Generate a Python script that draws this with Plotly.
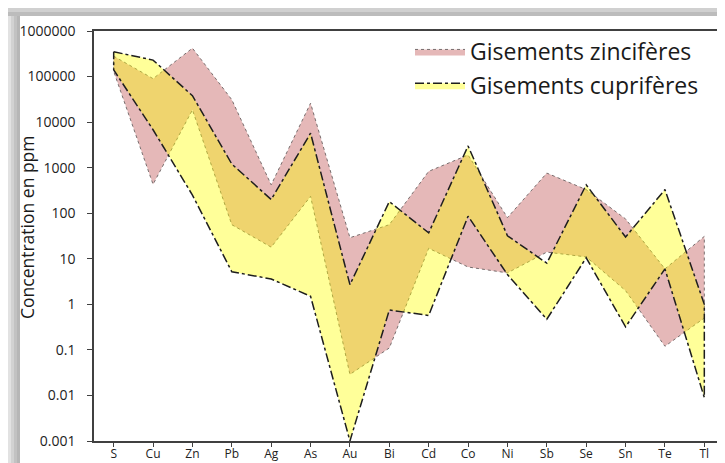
import plotly.graph_objects as go

elements = ["S", "Cu", "Zn", "Pb", "Ag", "As", "Au", "Bi", "Cd", "Co",
            "Ni", "Sb", "Se", "Sn", "Te", "Tl"]

zinc_max = [280000, 90000, 420000, 31000, 420, 26000, 29, 56, 830, 1900,
            80, 760, 330, 75, 6, 31]
zinc_min = [130000, 430, 18600, 56, 18, 235, 0.029, 0.11, 17, 6.6,
            4.9, 14, 11, 2, 0.12, 0.5]

cupr_max = [350000, 230000, 38000, 1200, 200, 5700, 2.7, 180, 37, 3000,
            32, 8, 420, 30, 330, 1]
cupr_min = [140000, 6800, 250, 5.2, 3.6, 1.5, 0.001, 0.75, 0.57, 86,
            4.5, 0.47, 10.5, 0.32, 6, 0.009]

ytick_vals = [0.001, 0.01, 0.1, 1, 10, 100, 1000, 10000, 100000, 1000000]
ytick_text = ["0.001", "0.01", "0.1", "1", "10", "100", "1000", "10000",
              "100000", "1000000"]

W, H = 725, 463
L, R, T, B = 86, 9, 23, 30
PW, PH = W - L - R, H - T - B


def px(x):
    return (x - L) / PW


def py(y):
    return 1 - (y - T) / PH


def band(cats, hi, lo):
    xs = list(cats) + list(cats)[::-1] + [cats[0]]
    ys = list(hi) + list(lo)[::-1] + [hi[0]]
    return xs, ys


fig = go.Figure()

zx, zy = band(elements, zinc_max, zinc_min)
fig.add_trace(go.Scatter(
    x=zx, y=zy, mode="lines", fill="toself",
    fillcolor="rgb(229,184,184)",
    line=dict(color="rgb(120,110,110)", width=1, dash="dot"),
    name="Gisements zincifères", legendgroup="z",
))

cx, cy = band(elements, cupr_max, cupr_min)
fig.add_trace(go.Scatter(
    x=cx, y=cy, mode="lines", fill="toself",
    fillcolor="rgba(255,255,0,0.40)",
    line=dict(color="rgb(30,30,30)", width=1.5, dash="dashdot"),
    name="Gisements cuprifères", legendgroup="c",
))

shapes = []
# frame shadow (left and top)
left_cols = ["#e2e2e2", "#d2d2d2", "#c2c2c2", "#b6b6b6"]
for i, c in enumerate(left_cols):
    shapes.append(dict(type="rect", xref="paper", yref="paper",
                       x0=px(i * 3), x1=px(i * 3 + 3), y0=py(H), y1=py(0),
                       fillcolor=c, line=dict(width=0), layer="above"))
top_cols = ["#d0d0d0", "#bcbcbc"]
for i, c in enumerate(top_cols):
    shapes.append(dict(type="rect", xref="paper", yref="paper",
                       x0=px(0), x1=px(W), y0=py(i * 4 + 4), y1=py(i * 4),
                       fillcolor=c, line=dict(width=0), layer="above"))

fig.update_layout(
    width=W, height=H,
    margin=dict(l=L, r=R, t=T, b=B, autoexpand=False),
    paper_bgcolor="white", plot_bgcolor="white",
    font=dict(family="Open Sans", color="#222222"),
    showlegend=True,
    legend=dict(x=px(402), y=py(22), xanchor="left", yanchor="top",
                font=dict(size=23, family="Open Sans", color="#1a1a1a"),
                bgcolor="rgba(0,0,0,0)", traceorder="grouped",
                tracegroupgap=1, itemwidth=50),
    xaxis=dict(type="category", range=[-0.5, 15.5], showgrid=False,
               showline=True, linecolor="#404040", linewidth=1.5, mirror=True,
               ticks="outside", ticklen=4, tickcolor="#404040",
               ticklabelstandoff=-3,
               tickfont=dict(size=12, color="#222222"), zeroline=False),
    yaxis=dict(type="log", range=[-3, 6], showgrid=False,
               showline=True, linecolor="#404040", linewidth=1.5, mirror=True,
               ticks="outside", ticklen=5, tickcolor="#404040",
               ticklabelstandoff=9,
               tickmode="array", tickvals=ytick_vals, ticktext=ytick_text,
               tickfont=dict(size=14, color="#222222"), zeroline=False),
    shapes=shapes,
    annotations=[dict(text="Concentration en ppm", textangle=-90,
                      xref="paper", yref="paper", x=px(19), y=py(219),
                      xanchor="center", yanchor="middle", showarrow=False,
                      font=dict(size=17.5, family="Open Sans", color="#1a1a1a"))],
)

fig.write_html("out.html")
